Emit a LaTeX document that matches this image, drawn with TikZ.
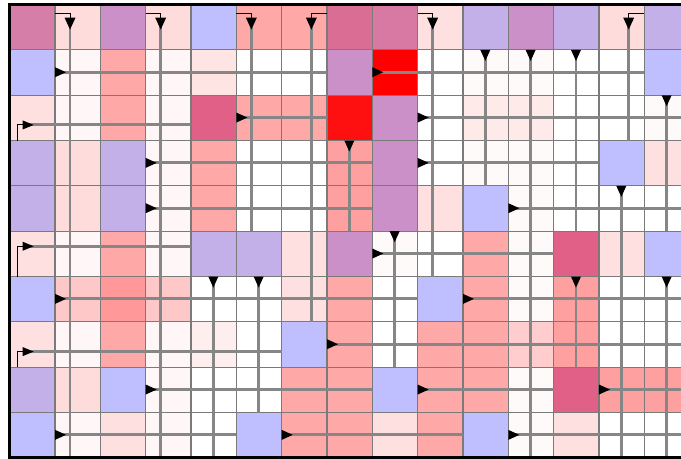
\documentclass[tikz,border=0pt]{standalone}
\definecolor{qA}{HTML}{D57EA8}
\definecolor{qB}{HTML}{D96D94}
\definecolor{qC}{HTML}{D779A3}
\definecolor{qP}{HTML}{CC90C8}
\definecolor{qL}{HTML}{C3B0E9}
\definecolor{qU}{HTML}{BFBFFF}
\definecolor{qD}{HTML}{E06088}
\definecolor{qR}{HTML}{FF0000}
\definecolor{qRR}{HTML}{FF1010}
\definecolor{qS}{HTML}{FFA8A8}
\definecolor{qSS}{HTML}{FFA0A0}
\definecolor{qSSS}{HTML}{FF9898}
\definecolor{qM}{HTML}{FFC8C8}
\definecolor{qMM}{HTML}{FFCDCD}
\definecolor{qK}{HTML}{FFDCDC}
\definecolor{qKK}{HTML}{FFE0E0}
\definecolor{qKKK}{HTML}{FFEAEA}
\definecolor{qKD}{HTML}{FFE4E4}
\definecolor{qKE}{HTML}{FFEEEE}
\definecolor{qN}{HTML}{FFF7F7}
\definecolor{qNN}{HTML}{FFFAFA}
\definecolor{qW}{HTML}{FFFFFF}
\definecolor{cellline}{HTML}{7A7A7A}
\definecolor{wiregray}{HTML}{868686}
\begin{document}
\begin{tikzpicture}[x=0.75pt,y=-0.75pt,
  declare function={cx(\k)=9.7+45.33*\k; cy(\k)=4.6+45.33*\k;},
  cellbox/.style={draw=cellline, line width=0.85pt},
  wire/.style={draw=wiregray, line width=2.2pt},
  feed/.style={draw=black, line width=0.75pt},
  tip/.style={fill=black}]
\useasboundingbox (0,0) rectangle (681,459);
\clip (0,0) rectangle (681,459);
\fill[white] (0,0) rectangle (681,459);
% cells
\foreach \rowcols [count=\ri from 0] in {
 {qA,qK,qP,qK,qU,qS,qS,qB,qC,qKK,qL,qP,qL,qK,qL},
 {qU,qN,qS,qN,qKD,qW,qW,qP,qR,qW,qNN,qNN,qW,qW,qU},
 {qKK,qN,qS,qN,qD,qS,qS,qRR,qP,qW,qKKK,qKKK,qW,qW,qNN},
 {qL,qK,qL,qN,qS,qW,qW,qSS,qP,qW,qNN,qNN,qW,qU,qKK},
 {qL,qK,qL,qN,qS,qW,qW,qSS,qP,qKK,qU,qNN,qW,qW,qW},
 {qKK,qN,qS,qN,qL,qL,qKK,qP,qNN,qW,qS,qNN,qD,qKK,qU},
 {qU,qM,qSSS,qM,qW,qW,qKK,qS,qW,qU,qS,qNN,qSS,qW,qW},
 {qKK,qN,qS,qN,qKE,qW,qU,qS,qW,qS,qS,qMM,qSS,qW,qW},
 {qL,qK,qU,qN,qW,qW,qS,qS,qU,qS,qS,qNN,qD,qSS,qSS},
 {qU,qN,qKK,qN,qW,qU,qS,qS,qKK,qS,qU,qNN,qKK,qW,qW}}{
  \foreach \col [count=\ci from 0] in \rowcols {
    \filldraw[cellbox, fill=\col] ({cx(\ci)},{cy(\ri)}) rectangle ({cx(\ci+1)},{cy(\ri+1)});
  }
}
% downward outputs of processing cells
\foreach \cc/\ra/\rb in {10/1/4, 11/1/10, 12/1/5, 14/2/5, 7/3/5, 13/4/10, 8/5/8, 4/6/10, 5/6/9, 12/6/8, 14/6/10}{
  \draw[wire] ({cx(\cc)+22.3},{cy(\ra)}) -- ({cx(\cc)+22.3},{cy(\rb)});
  \fill[tip] ({cx(\cc)+17.3},{cy(\ra)}) -- ({cx(\cc)+27.3},{cy(\ra)}) -- ({cx(\cc)+22.3},{cy(\ra)+11}) -- cycle;
}
% rightward outputs of processing cells
\foreach \rr/\ca/\cb in {1/1/7, 1/8/14, 2/5/7, 2/9/15, 3/3/8, 3/9/13, 4/3/8, 4/11/15, 5/8/12, 6/1/9, 6/10/15, 7/7/15, 8/3/8, 8/9/12, 8/13/15, 9/1/5, 9/6/10, 9/11/15}{
  \draw[wire] ({cx(\ca)},{cy(\rr)+22.3}) -- ({cx(\cb)},{cy(\rr)+22.3});
  \fill[tip] ({cx(\ca)},{cy(\rr)+17.3}) -- ({cx(\ca)},{cy(\rr)+27.3}) -- ({cx(\ca)+11},{cy(\rr)+22.3}) -- cycle;
}
% inputs from the top
\foreach \cc/\off/\rb/\src in {1/15/10/1, 3/15/10/3, 5/15/5/5, 6/29.7/7/7, 9/15/6/9, 13/29.7/3/14}{
  \draw[wire] ({cx(\cc)+\off},{cy(0)+18}) -- ({cx(\cc)+\off},{cy(\rb)});
  \draw[feed] ({cx(\src)},{cy(0)+8.7}) -- ({cx(\cc)+\off},{cy(0)+8.7}) -- ({cx(\cc)+\off},{cy(0)+13});
  \fill[tip] ({cx(\cc)+\off-5.5},{cy(0)+13}) -- ({cx(\cc)+\off+5.5},{cy(0)+13}) -- ({cx(\cc)+\off},{cy(0)+25}) -- cycle;
}
% inputs from the left
\foreach \rr/\off/\cb in {2/29.7/4, 5/15/4, 7/29.7/6}{
  \draw[wire] ({cx(0)+18},{cy(\rr)+\off}) -- ({cx(\cb)},{cy(\rr)+\off});
  \draw[feed] ({cx(0)+8},{cy(\rr+1)}) -- ({cx(0)+8},{cy(\rr)+\off}) -- ({cx(0)+13},{cy(\rr)+\off});
  \fill[tip] ({cx(0)+13},{cy(\rr)+\off-4.5}) -- ({cx(0)+13},{cy(\rr)+\off+4.5}) -- ({cx(0)+24},{cy(\rr)+\off}) -- cycle;
}
% frame
\draw[black, line width=2.2pt] ({cx(0)},{cy(0)}) rectangle ({cx(15)},{cy(10)});
\end{tikzpicture}
\end{document}
